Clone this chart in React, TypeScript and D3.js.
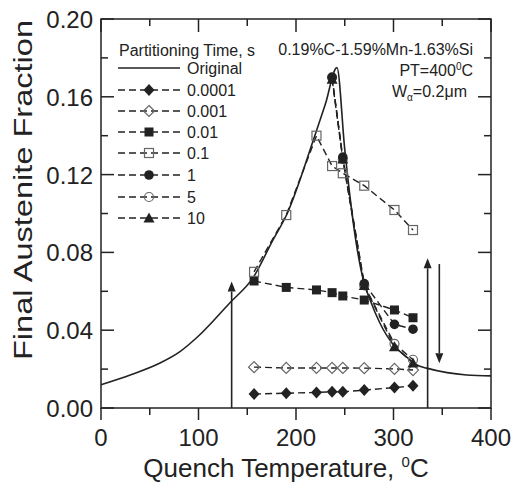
import React from "react";
import * as d3 from "d3";

// ---------- data ----------
const originalT = [0, 30, 60, 81, 100, 132, 156, 176, 191, 218, 230, 242, 250, 262, 270, 276, 286, 300, 313, 324, 334, 355, 375, 400];
const originalF = [0.012, 0.017, 0.023, 0.029, 0.037, 0.054, 0.067, 0.086, 0.1, 0.138, 0.156, 0.175, 0.133, 0.084, 0.064, 0.0555, 0.0437, 0.0324, 0.0264, 0.0221, 0.0205, 0.0182, 0.017, 0.0165];

const qtFull = [157, 190, 221, 237, 248, 270, 301, 320];
const f0001 = [0.0072, 0.0076, 0.008, 0.0083, 0.0083, 0.0092, 0.0105, 0.0114];
const f001 = [0.021, 0.0206, 0.0206, 0.0206, 0.0206, 0.0205, 0.0201, 0.0195];
const f01 = [0.0653, 0.062, 0.0607, 0.0593, 0.0576, 0.0555, 0.0504, 0.0464];
const f1 = [0.07, 0.0992, 0.14, 0.1244, 0.1207, 0.1143, 0.1018, 0.0915];

const qtLong = [237, 248, 270, 301, 320];
const f1s = [0.17, 0.129, 0.064, 0.043, 0.0405];
const f5s = [0.17, 0.128, 0.063, 0.033, 0.0248];
const f10s = [0.169, 0.128, 0.063, 0.0315, 0.0232];

const legendLabels = ["Original", "0.0001", "0.001", "0.01", "0.1", "1", "5", "10"];
const xTicks = [0, 100, 200, 300, 400];
const xMinor = [50, 150, 250, 350];
const yTicks = [0, 0.04, 0.08, 0.12, 0.16, 0.2];
const yMinor = [0.02, 0.06, 0.1, 0.14, 0.18];

// arrows: [x, from, to]
const arrows = [
  [134, 0, 0.065],
  [335, 0, 0.077],
  [347, 0.074, 0.023],
];

const FONT = "'Liberation Sans', Arial, Helvetica, sans-serif";
const INK = "#222";
const GREY = "#666";

type Marker = "fdiamond" | "odiamond" | "fsquare" | "osquare" | "fcircle" | "ocircle" | "ftriangle";

function MarkerShape({ type, x, y }: { type: Marker; x: number; y: number }) {
  switch (type) {
    case "fdiamond":
      return <path d={`M${x},${y - 6}L${x + 5.5},${y}L${x},${y + 6}L${x - 5.5},${y}Z`} fill={INK} />;
    case "odiamond":
      return <path d={`M${x},${y - 5.5}L${x + 5.5},${y}L${x},${y + 5.5}L${x - 5.5},${y}Z`} fill="none" stroke={GREY} strokeWidth={1.2} />;
    case "fsquare":
      return <rect x={x - 4.5} y={y - 4.5} width={9} height={9} fill={INK} />;
    case "osquare":
      return <rect x={x - 4.5} y={y - 4.5} width={9} height={9} fill="none" stroke={GREY} strokeWidth={1.2} />;
    case "fcircle":
      return <circle cx={x} cy={y} r={4.8} fill={INK} />;
    case "ocircle":
      return <circle cx={x} cy={y} r={4.5} fill="none" stroke={GREY} strokeWidth={1.2} />;
    case "ftriangle":
      return <path d={`M${x},${y - 5.5}L${x + 5.5},${y + 4.5}L${x - 5.5},${y + 4.5}Z`} fill={INK} />;
  }
  return null;
}

export default function App() {
  const W = 514, H = 483;
  const x = d3.scaleLinear().domain([0, 400]).range([101, 491]);
  const y = d3.scaleLinear().domain([0, 0.2]).range([408, 19]);

  const curveLine = d3
    .line<number>()
    .x((_, i) => x(originalT[i]))
    .y((d) => y(d))
    .curve(d3.curveMonotoneX);

  const straight = (xs: number[], ys: number[]) =>
    d3
      .line<number>()
      .x((_, i) => x(xs[i]))
      .y((d) => y(d))(ys) as string;

  const series: { xs: number[]; ys: number[]; m: Marker }[] = [
    { xs: qtFull, ys: f0001, m: "fdiamond" },
    { xs: qtFull, ys: f001, m: "odiamond" },
    { xs: qtFull, ys: f01, m: "fsquare" },
    { xs: qtFull, ys: f1, m: "osquare" },
    { xs: qtLong, ys: f5s, m: "ocircle" },
    { xs: qtLong, ys: f10s, m: "ftriangle" },
    { xs: qtLong, ys: f1s, m: "fcircle" },
  ];
  const legendMarkers: (Marker | null)[] = [null, "fdiamond", "odiamond", "fsquare", "osquare", "fcircle", "ocircle", "ftriangle"];
  const legendY = [68, 90, 111, 132, 153, 175, 197, 218];

  const x0 = 101, x1 = 491, y0 = 408, y1 = 19;

  return (
    <div style={{ position: "absolute", left: 0, top: 0 }}>
      <svg width={W} height={H} style={{ display: "block", background: "#fff" }} fontFamily={FONT}>
        <rect x={0} y={0} width={W} height={H} fill="#fff" />
        {/* original curve */}
        <path d={curveLine(originalF) as string} fill="none" stroke={INK} strokeWidth={1.6} />

        {/* arrows */}
        {arrows.map(([ax, a, b], i) => {
          const px = x(ax);
          const ya = y(a), yb = y(b);
          const dir = yb < ya ? -1 : 1;
          const tipBase = yb - dir * 10;
          return (
            <g key={"ar" + i}>
              <line x1={px} y1={ya} x2={px} y2={tipBase} stroke={INK} strokeWidth={1.6} />
              <path d={`M${px},${yb}L${px + 4},${tipBase}L${px - 4},${tipBase}Z`} fill={INK} />
            </g>
          );
        })}

        {/* series lines */}
        {series.map((s, i) => (
          <path key={"l" + i} d={straight(s.xs, s.ys)} fill="none" stroke={INK} strokeWidth={1.4} strokeDasharray="7,4" />
        ))}
        {/* markers */}
        {series.map((s, i) => (
          <g key={"m" + i}>
            {s.ys.map((v, j) => (
              <MarkerShape key={j} type={s.m} x={x(s.xs[j])} y={y(v)} />
            ))}
          </g>
        ))}

        {/* frame */}
        <rect x={x0} y={y1} width={x1 - x0} height={y0 - y1} fill="none" stroke={INK} strokeWidth={1.5} />

        {/* x ticks: bottom outward, top inward */}
        {xTicks.map((t) => (
          <g key={"xt" + t}>
            <line x1={x(t)} x2={x(t)} y1={y0} y2={y0 + 12} stroke={INK} strokeWidth={1.5} />
            <line x1={x(t)} x2={x(t)} y1={y1} y2={y1 + 13} stroke={INK} strokeWidth={1.5} />
            <text x={x(t)} y={446} textAnchor="middle" fontSize={24} fill={INK}>
              {t}
            </text>
          </g>
        ))}
        {xMinor.map((t) => (
          <g key={"xm" + t}>
            <line x1={x(t)} x2={x(t)} y1={y0} y2={y0 + 7} stroke={INK} strokeWidth={1.5} />
            <line x1={x(t)} x2={x(t)} y1={y1} y2={y1 + 7} stroke={INK} strokeWidth={1.5} />
          </g>
        ))}

        {/* y ticks: inward on both sides */}
        {yTicks.map((t) => (
          <g key={"yt" + t}>
            <line x1={x0} x2={x0 + 13} y1={y(t)} y2={y(t)} stroke={INK} strokeWidth={1.5} />
            <line x1={x1} x2={x1 - 13} y1={y(t)} y2={y(t)} stroke={INK} strokeWidth={1.5} />
            <text x={93} y={y(t) + 9} textAnchor="end" fontSize={24} fill={INK}>
              {d3.format(".2f")(t)}
            </text>
          </g>
        ))}
        {yMinor.map((t) => (
          <g key={"ym" + t}>
            <line x1={x0} x2={x0 + 7} y1={y(t)} y2={y(t)} stroke={INK} strokeWidth={1.5} />
            <line x1={x1} x2={x1 - 7} y1={y(t)} y2={y(t)} stroke={INK} strokeWidth={1.5} />
          </g>
        ))}

        {/* axis titles */}
        <text x={286} y={477} textAnchor="middle" fontSize={26} fill={INK}>
          Quench Temperature,{" "}
          <tspan fontSize={15} dy={-10}>
            0
          </tspan>
          <tspan dy={10}>C</tspan>
        </text>
        <text
          transform="translate(32,190) rotate(-90)"
          textAnchor="middle"
          fontSize={25}
          fill={INK}
          textLength={340}
          lengthAdjust="spacingAndGlyphs"
        >
          Final Austenite Fraction
        </text>

        {/* legend */}
        <text x={119} y={56} fontSize={16} fill={INK}>
          Partitioning Time, s
        </text>
        {legendLabels.map((lab, i) => {
          const ly = legendY[i];
          const m = legendMarkers[i];
          return (
            <g key={"lg" + i}>
              <line
                x1={118}
                x2={180}
                y1={ly}
                y2={ly}
                stroke={INK}
                strokeWidth={1.5}
                strokeDasharray={m ? "7,4" : undefined}
              />
              {m && <MarkerShape type={m} x={149} y={ly} />}
              <text x={187} y={ly + 6} fontSize={16} fill={INK}>
                {lab}
              </text>
            </g>
          );
        })}

        {/* annotations */}
        <text x={473} y={55} textAnchor="end" fontSize={16} fill={INK}>
          0.19%C-1.59%Mn-1.63%Si
        </text>
        <text x={473} y={76} textAnchor="end" fontSize={16} fill={INK}>
          PT=400
          <tspan fontSize={10} dy={-6}>
            0
          </tspan>
          <tspan dy={6}>C</tspan>
        </text>
        <text x={467} y={97} textAnchor="end" fontSize={16} fill={INK}>
          W
          <tspan fontSize={10} dy={4}>
            α
          </tspan>
          <tspan dy={-4}>=0.2μm</tspan>
        </text>
      </svg>
    </div>
  );
}
